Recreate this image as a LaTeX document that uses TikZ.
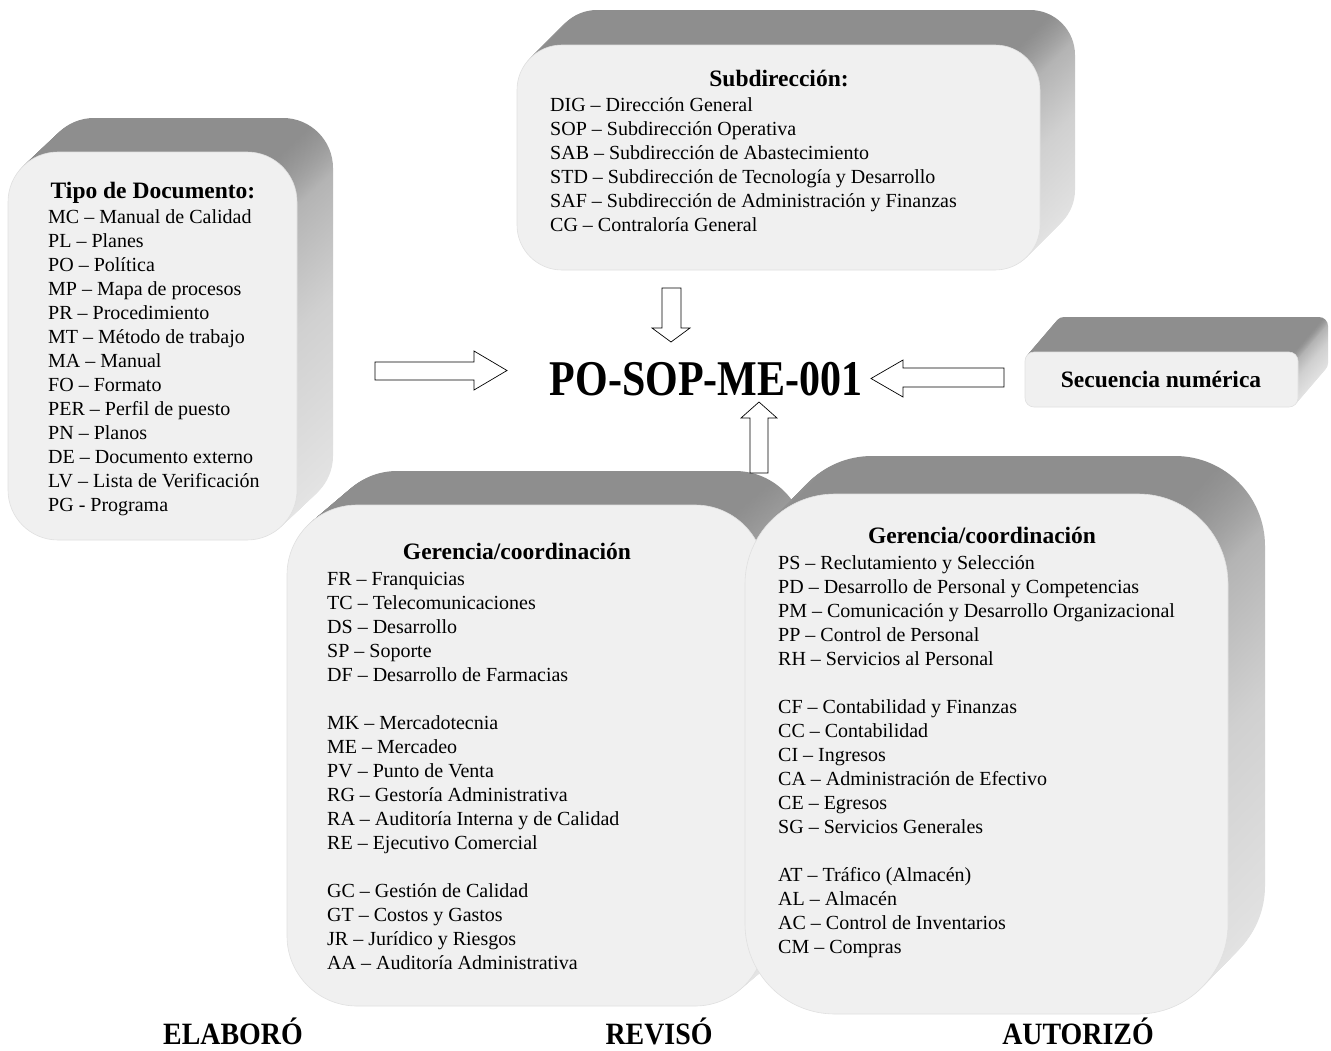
\documentclass[tikz,border=0pt]{standalone}
\usepackage{fontspec}
\setmainfont{Liberation Serif}
\definecolor{facec}{HTML}{F0F0F0}
\definecolor{sidetop}{HTML}{8E8E8E}
\definecolor{sidehi}{HTML}{B4B4B4}
\definecolor{sidemid}{HTML}{D0D0D0}
\definecolor{sidebot}{HTML}{E6E6E6}
\pgfdeclareverticalshading{extshade}{100bp}{color(0bp)=(sidebot); color(25bp)=(sidebot); color(52bp)=(sidemid); color(68bp)=(sidehi); color(74bp)=(sidetop); color(100bp)=(sidetop)}
\tikzset{
  body/.style={font=\fontsize{20}{24}\selectfont, anchor=base west, inner sep=0pt},
  head/.style={font=\fontsize{23.5}{26}\selectfont\bfseries, anchor=base, inner sep=0pt},
  face/.style={fill=facec, draw=black!12, line width=0.6pt},
  blockarrow/.style={fill=white, draw=black, line width=0.7pt, line join=miter},
  foot/.style={anchor=base, inner sep=0pt},
}
% extruded rounded box: name, x1, y1, x2, y2 (front face), radius, dx, dy (depth offset)
\newcommand\extbox[8]{%
  \foreach \s in {40,39,...,1}{%
    \pgfmathsetmacro\fx{#7*\s/40}%
    \pgfmathsetmacro\fy{#8*\s/40}%
    \shade[shading=extshade, rounded corners=#6pt]
      ({#2+\fx},{#3+\fy}) rectangle ({#4+\fx},{#5+\fy});
  }
  \path[face, rounded corners=#6pt] (#2,#3) rectangle (#4,#5);
  \coordinate (#1) at ({(#2+#4)/2},{(#3+#5)/2});
}
\newcommand\listlines[4]{%
  \foreach \t [count=\k from 0] in {#4}{%
    \node[body, name=#1\k] at (#2,{#3+24*\k}) {\t};
  }%
}
\begin{document}
\begin{tikzpicture}[x=1pt,y=-1pt]
\useasboundingbox (0,0) rectangle (1331,1050);
\fill[white] (0,0) rectangle (1331,1050);

% Box A: Tipo de Documento
\extbox{boxA}{8}{152}{297}{540}{50}{36}{-34}
\node[head, name=headA] at (153,198) {Tipo de Documento:};
\listlines{A}{48}{223}{MC – Manual de Calidad, PL – Planes, PO – Política, MP – Mapa de procesos, PR – Procedimiento, MT – Método de trabajo, MA – Manual, FO – Formato, PER – Perfil de puesto, PN – Planos, DE – Documento externo, LV – Lista de Verificación, PG - Programa}

% Box B: Subdireccion
\extbox{boxB}{517}{45}{1040}{270}{45}{35}{-35}
\node[head, name=headB] at (779,86) {Subdirección:};
\listlines{B}{550}{111}{DIG – Dirección General, SOP – Subdirección Operativa, SAB – Subdirección de Abastecimiento, STD – Subdirección de Tecnología y Desarrollo, SAF – Subdirección de Administración y Finanzas, CG – Contraloría General}

% Box C: Secuencia numerica
\extbox{boxC}{1025}{352}{1298}{407}{9}{30}{-35}
\node[head, name=headC] at (1161,387) {Secuencia numérica};

% Box D: Gerencia (revisó)
\extbox{boxD}{287}{505}{765}{1006}{70}{40}{-34}
\node[head, name=headD] at (517,559) {Gerencia/coordinación};
\listlines{Da}{327}{585}{FR – Franquicias, TC – Telecomunicaciones, DS – Desarrollo, SP – Soporte, DF – Desarrollo de Farmacias}
\listlines{Db}{327}{729}{MK – Mercadotecnia, ME – Mercadeo, PV – Punto de Venta, RG – Gestoría Administrativa, RA – Auditoría Interna y de Calidad, RE – Ejecutivo Comercial}
\listlines{Dc}{327}{897}{GC – Gestión de Calidad, GT – Costos y Gastos, JR – Jurídico y Riesgos, AA – Auditoría Administrativa}

% Box E: Gerencia (autorizó)
\extbox{boxE}{745}{494}{1228}{1014}{90}{37}{-38}
\node[head, name=headE] at (982,543) {Gerencia/coordinación};
\listlines{Ea}{778}{569}{PS – Reclutamiento y Selección, PD – Desarrollo de Personal y Competencias, PM – Comunicación y Desarrollo Organizacional, PP – Control de Personal, RH – Servicios al Personal}
\listlines{Eb}{778}{713}{CF – Contabilidad y Finanzas, CC – Contabilidad, CI – Ingresos, CA – Administración de Efectivo, CE – Egresos, SG – Servicios Generales}
\listlines{Ec}{778}{881}{AT – Tráfico (Almacén), AL – Almacén, AC – Control de Inventarios, CM – Compras}

% central code
\node[inner sep=0pt, anchor=base, name=code] at (706,395)
  {\scalebox{0.84}[1]{\fontsize{50}{50}\selectfont\bfseries PO-SOP-ME-001}};

% block arrows
\draw[blockarrow] (375,362) -- (474,362) -- (474,351) -- (507,370.5) -- (474,390) -- (474,380) -- (375,380) -- cycle;
\draw[blockarrow] (662,288) -- (681,288) -- (681,328) -- (690,328) -- (671,342) -- (652,328) -- (662,328) -- cycle;
\draw[blockarrow] (1004,368) -- (903,368) -- (903,360) -- (871,378.5) -- (903,397) -- (903,387) -- (1004,387) -- cycle;
\draw[blockarrow] (750,473) -- (750,418) -- (741,418) -- (759,402) -- (777,418) -- (768,418) -- (768,473) -- cycle;

% bottom labels
\node[foot, name=elab] at (233,1044) {\scalebox{0.9}[1]{\fontsize{31}{31}\selectfont\bfseries ELABORÓ}};
\node[foot, name=revi] at (659,1044) {\scalebox{0.9}[1]{\fontsize{31}{31}\selectfont\bfseries REVISÓ}};
\node[foot, name=auto] at (1078,1044) {\scalebox{0.9}[1]{\fontsize{31}{31}\selectfont\bfseries AUTORIZÓ}};
\end{tikzpicture}
\end{document}
